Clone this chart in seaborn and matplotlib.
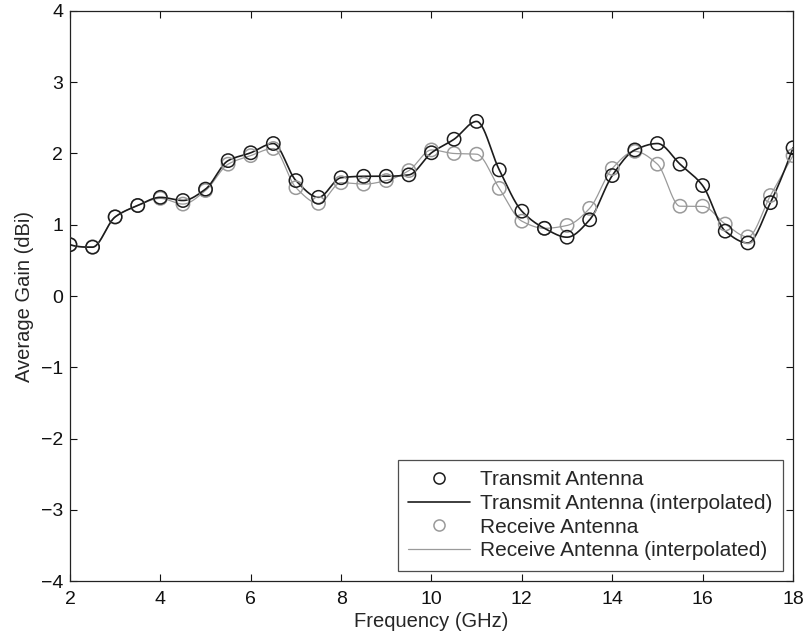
import numpy as np
import pandas as pd
import matplotlib
matplotlib.use("Agg")
import matplotlib.pyplot as plt
import seaborn as sns
from matplotlib.lines import Line2D

freq_ghz = [2.0, 2.5, 3.0, 3.5, 4.0, 4.5, 5.0, 5.5, 6.0, 6.5, 7.0, 7.5, 8.0, 8.5,
            9.0, 9.5, 10.0, 10.5, 11.0, 11.5, 12.0, 12.5, 13.0, 13.5, 14.0, 14.5,
            15.0, 15.5, 16.0, 16.5, 17.0, 17.5, 18.0]
transmit_gain = [0.72, 0.685, 1.11, 1.27, 1.385, 1.34, 1.50, 1.90, 2.01, 2.14, 1.62,
                 1.385, 1.66, 1.68, 1.68, 1.70, 2.01, 2.20, 2.45, 1.77, 1.19, 0.95,
                 0.825, 1.07, 1.69, 2.05, 2.14, 1.85, 1.55, 0.91, 0.745, 1.31, 2.08]
receive_gain = [0.72, 0.69, 1.11, 1.27, 1.37, 1.29, 1.48, 1.85, 1.97, 2.07, 1.52,
                1.30, 1.59, 1.57, 1.62, 1.76, 2.05, 2.00, 1.99, 1.51, 1.05, 0.95,
                0.99, 1.23, 1.79, 2.03, 1.85, 1.26, 1.26, 1.01, 0.83, 1.41, 1.97]
x_ticks = [2, 4, 6, 8, 10, 12, 14, 16, 18]
y_ticks = [-4, -3, -2, -1, 0, 1, 2, 3, 4]
legend_labels = ["Transmit Antenna", "Transmit Antenna (interpolated)",
                 "Receive Antenna", "Receive Antenna (interpolated)"]


def pchip(x, y, xn):
    x = np.asarray(x, float); y = np.asarray(y, float)
    h = np.diff(x); delta = np.diff(y) / h
    n = len(x); d = np.zeros(n)
    for k in range(1, n - 1):
        if delta[k - 1] * delta[k] > 0:
            w1 = 2 * h[k] + h[k - 1]; w2 = h[k] + 2 * h[k - 1]
            d[k] = (w1 + w2) / (w1 / delta[k - 1] + w2 / delta[k])
    def endslope(h0, h1, d0, d1):
        s = ((2 * h0 + h1) * d0 - h0 * d1) / (h0 + h1)
        if np.sign(s) != np.sign(d0):
            s = 0.0
        elif np.sign(d0) != np.sign(d1) and abs(s) > abs(3 * d0):
            s = 3 * d0
        return s
    d[0] = endslope(h[0], h[1], delta[0], delta[1])
    d[-1] = endslope(h[-1], h[-2], delta[-1], delta[-2])
    idx = np.clip(np.searchsorted(x, xn) - 1, 0, n - 2)
    t = (xn - x[idx]) / h[idx]
    h00 = 2 * t**3 - 3 * t**2 + 1; h10 = t**3 - 2 * t**2 + t
    h01 = -2 * t**3 + 3 * t**2; h11 = t**3 - t**2
    return h00 * y[idx] + h10 * h[idx] * d[idx] + h01 * y[idx + 1] + h11 * h[idx] * d[idx + 1]


sns.set_theme(style="white")
plt.rcParams['font.family'] = ['Liberation Sans', 'DejaVu Sans']

fig = plt.figure(figsize=(8.06, 6.38), dpi=100)
ax = fig.add_axes([0.0868, 0.0893, 0.8971, 0.8935])

xf = np.linspace(freq_ghz[0], freq_ghz[-1], 800)
df_pts = pd.DataFrame({"f": freq_ghz, "t": transmit_gain, "r": receive_gain})
df_t = pd.DataFrame({"f": xf, "g": pchip(freq_ghz, transmit_gain, xf)})
df_r = pd.DataFrame({"f": xf, "g": pchip(freq_ghz, receive_gain, xf)})

t_col = "#1c1c1c"
r_col = "#9a9a9a"

sns.lineplot(data=df_r, x="f", y="g", ax=ax, color=r_col, lw=0.9, zorder=2)
sns.lineplot(data=df_t, x="f", y="g", ax=ax, color=t_col, lw=1.2, zorder=3)
ax.scatter(df_pts["f"], df_pts["r"], s=92, facecolors="none", edgecolors=r_col,
           linewidths=1.1, zorder=4)
ax.scatter(df_pts["f"], df_pts["t"], s=92, facecolors="none", edgecolors=t_col,
           linewidths=1.1, zorder=5)

ax.set_xlim(2, 18)
ax.set_ylim(-4, 4)
ax.set_xticks(x_ticks)
ax.set_yticks(y_ticks)
ax.set_yticklabels([("\u2212" + str(abs(v))) if v < 0 else str(v) for v in y_ticks])
ax.set_xlabel("Frequency (GHz)", fontsize=14.5, labelpad=3)
ax.set_ylabel("Average Gain (dBi)", fontsize=14.5, labelpad=5)
ax.tick_params(axis="x", pad=7)
ax.tick_params(axis="y", pad=5)
ax.tick_params(direction="in", length=5, width=0.8, labelsize=14, colors="#111111",
               top=True, right=True, bottom=True, left=True)
for s in ax.spines.values():
    s.set_color("#222222")
    s.set_linewidth(0.9)

handles = [
    Line2D([], [], ls="none", marker="o", markersize=8, markerfacecolor="none",
           markeredgecolor=t_col, markeredgewidth=1.1),
    Line2D([], [], color=t_col, lw=1.2),
    Line2D([], [], ls="none", marker="o", markersize=8, markerfacecolor="none",
           markeredgecolor=r_col, markeredgewidth=1.1),
    Line2D([], [], color=r_col, lw=0.9),
]
leg = ax.legend(handles, legend_labels, loc="lower right", fontsize=15,
                frameon=True, fancybox=False, edgecolor="#222222",
                borderaxespad=0.5, handlelength=3.0, handletextpad=0.45,
                labelspacing=0.22, borderpad=0.5)
leg.get_frame().set_linewidth(0.9)

fig.savefig("out.png", dpi=100, facecolor="white")
